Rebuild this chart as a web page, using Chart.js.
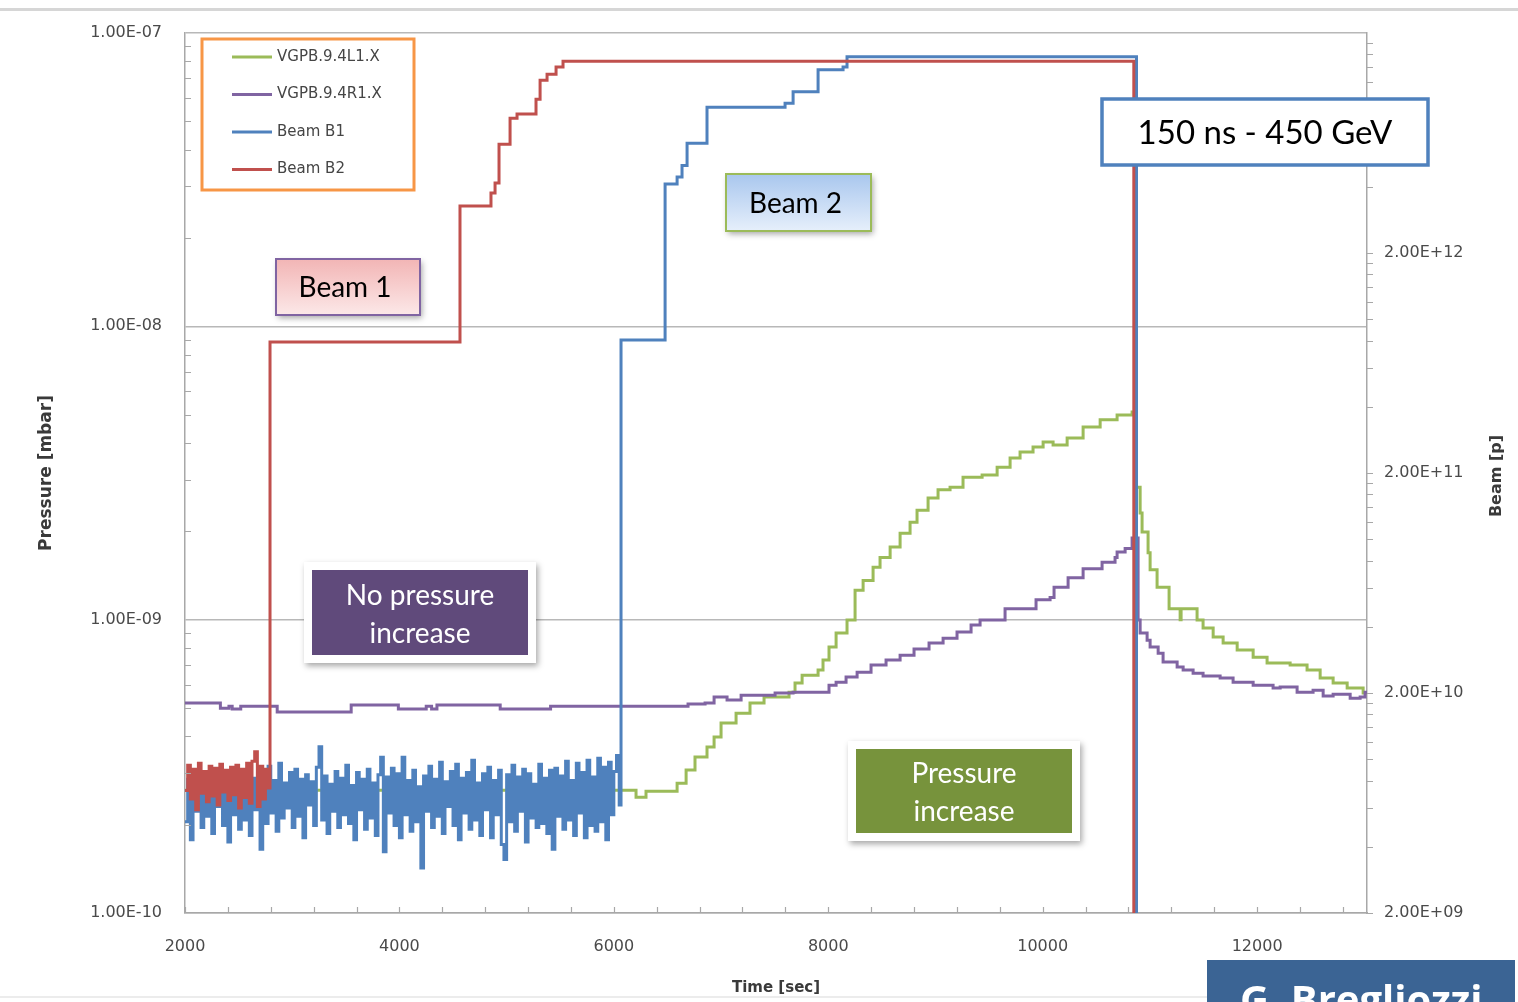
<!DOCTYPE html>
<html>
<head>
<meta charset="utf-8">
<title>VGPB.9.4 pressure and beam intensity</title>
<script src="https://cdn.jsdelivr.net/npm/chart.js@4.4.1/dist/chart.umd.min.js"></script>
<style>
  html, body { margin: 0; padding: 0; background: #fff; }
  #wrap { width: 1518px; height: 1002px; }
</style>
</head>
<body>
<div id="wrap"><canvas id="chartVac" width="1518" height="1002"></canvas></div>
<script>
/* =============================================
   DATA
   ============================================= */
// axis ticks
const timeTicks = [2000, 4000, 6000, 8000, 10000, 12000];
const pressureTicks = [1e-10, 1e-9, 1e-8, 1e-7];
const beamTicks = [2e9, 2e10, 2e11, 2e12, 2e13];

// VGPB.9.4L1.X  [mbar]
const l1Time = [2000, 6067, 6207, 6300, 6590, 6674, 6757, 6869, 6935, 7000,
  7140, 7270, 7401, 7634, 7690, 7756, 7905, 7951, 8007, 8073,
  8175, 8250, 8325, 8418, 8483, 8577, 8670, 8763, 8828, 8931,
  9024, 9136, 9257, 9435, 9575, 9696, 9789, 9910, 10004, 10097,
  10228, 10377, 10536, 10694, 10834, 10871, 10909, 10927, 10983, 11002,
  11067, 11179, 11282, 11291, 11440, 11496, 11590, 11683, 11814, 11963,
  12093, 12308, 12466, 12588, 12709, 12840, 12989, 13025];
const l1Pressure = [2.62e-10, 2.62e-10, 2.48e-10, 2.60e-10, 2.77e-10, 3.07e-10, 3.40e-10, 3.68e-10, 3.98e-10, 4.44e-10,
  4.80e-10, 5.20e-10, 5.45e-10, 5.66e-10, 6.08e-10, 6.47e-10, 6.73e-10, 7.28e-10, 8.07e-10, 9.00e-10,
  9.98e-10, 1.26e-9, 1.36e-9, 1.51e-9, 1.63e-9, 1.77e-9, 1.97e-9, 2.15e-9, 2.36e-9, 2.60e-9,
  2.77e-9, 2.83e-9, 3.06e-9, 3.11e-9, 3.31e-9, 3.56e-9, 3.73e-9, 3.88e-9, 4.03e-9, 3.94e-9,
  4.16e-9, 4.54e-9, 4.80e-9, 4.99e-9, 5.10e-9, 2.83e-9, 2.31e-9, 1.99e-9, 1.69e-9, 1.48e-9,
  1.29e-9, 1.09e-9, 1.00e-9, 1.09e-9, 9.98e-10, 9.36e-10, 8.73e-10, 8.32e-10, 7.88e-10, 7.45e-10,
  7.11e-10, 7.00e-10, 6.73e-10, 6.32e-10, 6.08e-10, 5.85e-10, 5.62e-10, 5.62e-10];

// VGPB.9.4R1.X  [mbar]
const r1Time = [2000, 2330, 2410, 2440, 2520, 2860, 3550, 3990, 4250, 4300,
  4350, 4940, 5410, 6692, 6851, 6935, 7056, 7187, 7504, 7672,
  8007, 8073, 8166, 8269, 8399, 8539, 8670, 8800, 8940, 9071,
  9201, 9332, 9416, 9649, 9938, 10069, 10106, 10237, 10377, 10554,
  10675, 10694, 10769, 10834, 10890, 10909, 10974, 11002, 11077, 11123,
  11254, 11310, 11403, 11496, 11655, 11776, 11963, 12149, 12215, 12373,
  12522, 12616, 12709, 12868, 12961, 13007, 13025];
const r1Pressure = [5.20e-10, 4.99e-10, 5.07e-10, 4.96e-10, 5.07e-10, 4.84e-10, 5.12e-10, 4.96e-10, 5.07e-10, 4.96e-10,
  5.12e-10, 4.96e-10, 5.07e-10, 5.16e-10, 5.20e-10, 5.45e-10, 5.32e-10, 5.53e-10, 5.62e-10, 5.66e-10,
  5.98e-10, 6.12e-10, 6.37e-10, 6.62e-10, 7.00e-10, 7.28e-10, 7.57e-10, 7.94e-10, 8.32e-10, 8.65e-10,
  9.07e-10, 9.59e-10, 9.98e-10, 1.09e-9, 1.17e-9, 1.19e-9, 1.29e-9, 1.39e-9, 1.49e-9, 1.57e-9,
  1.63e-9, 1.70e-9, 1.75e-9, 1.90e-9, 9.98e-10, 9.00e-10, 8.51e-10, 8.07e-10, 7.69e-10, 7.17e-10,
  6.89e-10, 6.73e-10, 6.57e-10, 6.42e-10, 6.32e-10, 6.12e-10, 5.98e-10, 5.85e-10, 5.89e-10, 5.66e-10,
  5.75e-10, 5.49e-10, 5.57e-10, 5.40e-10, 5.45e-10, 5.66e-10, 5.66e-10];

// BCT readings before injection, one sample every 25 s from t = 2000 s  [1e9 p]
const noiseStart = 2000;
const noiseStep = 25;
const b1Noise = [
  5.2, 8.1, 4.3, 7.6, 5.8, 8.4, 4.9, 7.2, 5.5, 8.8, 4.6, 7.9, 6.1, 8.3, 5.0, 7.4, 4.2, 8.0, 5.6, 7.7,
  4.8, 8.6, 5.3, 7.1, 4.5, 8.2, 5.9, 7.5, 3.9, 8.9, 5.1, 9.3, 5.7, 8.0, 4.7, 9.6, 5.4, 7.8, 6.0, 8.7,
  4.9, 9.0, 5.5, 8.1, 4.4, 8.5, 6.2, 7.9, 5.0, 9.2, 11.4, 5.3, 8.4, 4.6, 7.7, 5.8, 8.8, 4.9, 8.2, 5.6,
  9.4, 5.1, 7.6, 4.3, 8.7, 5.9, 8.1, 4.8, 9.0, 5.4, 7.8, 4.5, 8.5, 10.2, 3.8, 8.3, 5.7, 9.1, 5.0, 8.6,
  4.4, 10.2, 5.6, 8.0, 4.7, 8.9, 5.2, 7.5, 3.2, 8.4, 5.8, 9.3, 4.9, 8.1, 5.5, 9.7, 4.6, 7.9, 6.1, 8.8,
  5.0, 9.5, 4.3, 8.2, 5.7, 8.7, 4.8, 9.9, 5.3, 7.8, 4.5, 8.6, 5.9, 9.2, 4.4, 8.0, 5.6, 8.9, 4.1, 3.5,
  8.5, 5.2, 9.4, 4.7, 8.3, 5.8, 9.0, 4.2, 8.6, 5.4, 7.7, 4.9, 9.5, 5.1, 8.2, 4.6, 8.9, 3.9, 9.1, 5.5,
  8.4, 4.8, 9.8, 5.3, 8.0, 4.5, 9.6, 5.7, 8.7, 4.4, 9.9, 5.0, 8.3, 4.7, 10.1, 5.2, 9.2, 4.3, 9.7, 5.6,
  8.8, 10.4, 6.2];
const b2Noise = [
  7.2, 9.4, 6.6, 9.0, 5.9, 9.6, 7.0, 8.8, 6.4, 9.3, 6.8, 9.1, 6.2, 9.5, 7.1, 8.9,
  6.5, 9.2, 6.9, 9.4, 6.0, 9.0, 6.7, 9.6, 6.3, 9.8, 10.8, 6.1, 9.3, 6.6, 9.0, 7.4];

// Beam B1 injections and dump  [p]
const b1Time = [6067, 6478, 6590, 6636, 6683, 6869, 7597, 7672, 7905, 8138, 8175, 10875, 13025];
const b1Intensity = [8.05e11, 4.12e12, 4.43e12, 5.0e12, 6.3e12, 9.2e12, 9.6e12, 1.08e13, 1.36e13, 1.4e13, 1.56e13, 1e9, 1e9];

// Beam B2 injections and dump  [p]
const b2Time = [2793, 4565, 4854, 4892, 4929, 5032, 5097, 5274, 5312, 5377, 5461, 5526, 10850, 13025];
const b2Intensity = [7.87e11, 3.27e12, 3.75e12, 4.16e12, 6.25e12, 8.2e12, 8.57e12, 1.0e13, 1.22e13, 1.3e13, 1.4e13, 1.49e13, 1e9, 1e9];

/* =============================================
   HELPERS
   ============================================= */
const COL = {
  l1: '#9BBB59',
  r1: '#8064A2',
  b1: '#4F81BD',
  b2: '#C0504D',
  axis: '#a8a8a8',
  grid: '#b8b8b8',
  text: '#4a4a4a'
};
const SANS = "'DejaVu Sans', sans-serif";

function toPoints(xs, ys) {
  return xs.map((x, i) => ({ x, y: ys[i] }));
}
// noise samples (in 1e9 p) followed by the stepped intensity record
function beamSeries(noise, times, values) {
  const pts = noise.map((v, i) => ({ x: noiseStart + i * noiseStep, y: v * 1e9 }));
  return pts.concat(toPoints(times, values));
}
// Excel style scientific label, e.g. 1.00E-07
function sci(v) {
  const e = Math.floor(Math.log10(v) + 1e-9);
  const m = v / Math.pow(10, e);
  const a = Math.abs(e);
  return m.toFixed(2) + 'E' + (e < 0 ? '-' : '+') + (a < 10 ? '0' + a : a);
}

/* =============================================
   DECORATION PLUGINS
   ============================================= */
const framePlugin = {
  id: 'frame',
  beforeDraw(chart) {
    const { ctx } = chart;
    ctx.save();
    ctx.fillStyle = '#fff';
    ctx.fillRect(0, 0, chart.width, chart.height);
    // slide rules
    ctx.fillStyle = '#d6d6d6';
    ctx.fillRect(0, 8, chart.width, 3);
    ctx.fillStyle = '#ececec';
    ctx.fillRect(0, 996, 1207, 2);
    ctx.restore();
  },
  afterDraw(chart) {
    const { ctx, chartArea: a, scales } = chart;
    ctx.save();
    ctx.strokeStyle = COL.axis;
    ctx.lineWidth = 1.2;
    ctx.beginPath();
    // minor ticks, pressure axis (inside)
    for (let d = -10; d < -7; d++) {
      for (let k = 2; k <= 9; k++) {
        const y = Math.round(scales.y.getPixelForValue(k * Math.pow(10, d))) + 0.5;
        ctx.moveTo(a.left, y); ctx.lineTo(a.left + 6, y);
      }
    }
    // minor ticks, beam axis (outside)
    for (let d = 9; d < 13; d++) {
      for (let k = 1; k <= 9; k++) {
        const y = Math.round(scales.y2.getPixelForValue(2 * k * Math.pow(10, d))) + 0.5;
        ctx.moveTo(a.right, y); ctx.lineTo(a.right + 6, y);
      }
    }
    // minor ticks, time axis
    for (let t = 2000; t <= 13000; t += 400) {
      const x = Math.round(scales.x.getPixelForValue(t)) + 0.5;
      ctx.moveTo(x, a.bottom); ctx.lineTo(x, a.bottom - 6);
    }
    ctx.stroke();
    ctx.restore();
  }
};

function shadowOn(ctx) {
  ctx.shadowColor = 'rgba(0,0,0,0.35)';
  ctx.shadowBlur = 6;
  ctx.shadowOffsetX = 2;
  ctx.shadowOffsetY = 3;
}

function gradientBox(ctx, x, y, w, h, top, bottom, border, label) {
  ctx.save();
  const g = ctx.createLinearGradient(0, y, 0, y + h);
  g.addColorStop(0, top);
  g.addColorStop(1, bottom);
  shadowOn(ctx);
  ctx.fillStyle = g;
  ctx.fillRect(x, y, w, h);
  ctx.shadowColor = 'transparent';
  ctx.strokeStyle = border;
  ctx.lineWidth = 2;
  ctx.strokeRect(x, y, w, h);
  ctx.fillStyle = '#000';
  ctx.font = "28px Lato, 'Open Sans', sans-serif";
  ctx.textAlign = 'center';
  ctx.textBaseline = 'middle';
  ctx.fillText(label, x + w / 2 - 3, y + h / 2 + 1);
  ctx.restore();
}

function filledNote(ctx, x, y, w, h, fill, lines) {
  ctx.save();
  shadowOn(ctx);
  ctx.fillStyle = '#fff';
  ctx.fillRect(x, y, w, h);
  ctx.shadowColor = 'transparent';
  ctx.fillStyle = fill;
  ctx.fillRect(x + 8, y + 8, w - 16, h - 16);
  ctx.fillStyle = '#fff';
  ctx.font = "28px Lato, 'Open Sans', sans-serif";
  ctx.textAlign = 'center';
  ctx.textBaseline = 'middle';
  const cy = y + h / 2;
  ctx.fillText(lines[0], x + w / 2, cy - 17);
  ctx.fillText(lines[1], x + w / 2, cy + 21);
  ctx.restore();
}

const overlayPlugin = {
  id: 'overlay',
  afterDraw(chart) {
    const { ctx } = chart;

    // legend box, series listed in reverse drawing order
    ctx.save();
    ctx.fillStyle = '#fff';
    ctx.fillRect(202, 39, 212, 151);
    ctx.strokeStyle = '#F79646';
    ctx.lineWidth = 3;
    ctx.strokeRect(202, 39, 212, 151);
    const sets = chart.data.datasets.slice().reverse();
    ctx.font = '15px ' + SANS;
    ctx.textBaseline = 'middle';
    sets.forEach((ds, i) => {
      const y = 57 + i * 37.5;
      ctx.strokeStyle = ds.borderColor;
      ctx.lineWidth = 3;
      ctx.beginPath();
      ctx.moveTo(232, y); ctx.lineTo(272, y);
      ctx.stroke();
      ctx.fillStyle = '#454545';
      ctx.fillText(ds.label, 277, y);
    });
    ctx.restore();

    // call-outs
    gradientBox(ctx, 276, 259, 144, 56, '#F2B5B5', '#FCE8E8', '#8064A2', 'Beam 1');
    gradientBox(ctx, 726, 174, 145, 57, '#A9C7EE', '#E6EFFB', '#9BBB59', 'Beam 2');
    filledNote(ctx, 304, 562, 232, 101, '#604A7B', ['No pressure', 'increase']);
    filledNote(ctx, 848, 741, 232, 100, '#77933C', ['Pressure', 'increase']);

    ctx.save();
    ctx.fillStyle = '#fff';
    ctx.fillRect(1102, 99, 326, 66);
    ctx.strokeStyle = '#4F81BD';
    ctx.lineWidth = 3.5;
    ctx.strokeRect(1102, 99, 326, 66);
    ctx.fillStyle = '#000';
    ctx.font = "33px Lato, 'Open Sans', sans-serif";
    ctx.textAlign = 'center';
    ctx.textBaseline = 'middle';
    ctx.fillText('150 ns - 450 GeV', 1265, 133);
    ctx.restore();

    // secondary axis title
    ctx.save();
    ctx.translate(1497, 476);
    ctx.rotate(-Math.PI / 2);
    ctx.fillStyle = '#3a3a3a';
    ctx.font = 'bold 16px ' + SANS;
    ctx.textAlign = 'center';
    ctx.textBaseline = 'middle';
    ctx.fillText('Beam [p]', 0, 0);
    ctx.restore();

    // author tag
    ctx.save();
    ctx.fillStyle = '#3B6494';
    ctx.fillRect(1207, 960, 308, 42);
    ctx.fillStyle = '#fff';
    ctx.font = "bold 40px 'Open Sans', sans-serif";
    ctx.textBaseline = 'alphabetic';
    ctx.fillText('G. Bregliozzi', 1240, 1014);
    ctx.restore();
  }
};

/* =============================================
   CHART
   ============================================= */
const tickFont = { family: SANS, size: 16 };

new Chart(document.getElementById('chartVac'), {
  type: 'line',
  data: {
    datasets: [
      { label: 'Beam B2', data: beamSeries(b2Noise, b2Time, b2Intensity), borderColor: COL.b2, yAxisID: 'y2' },
      { label: 'Beam B1', data: beamSeries(b1Noise, b1Time, b1Intensity), borderColor: COL.b1, yAxisID: 'y2' },
      { label: 'VGPB.9.4R1.X', data: toPoints(r1Time, r1Pressure), borderColor: COL.r1, yAxisID: 'y' },
      { label: 'VGPB.9.4L1.X', data: toPoints(l1Time, l1Pressure), borderColor: COL.l1, yAxisID: 'y' }
    ]
  },
  options: {
    responsive: false,
    animation: false,
    devicePixelRatio: 1,
    layout: { padding: { top: 33, left: 0, right: 0, bottom: 0 } },
    elements: {
      // horizontal run first, then the jump at the next sample
      line: { borderWidth: 3, stepped: 'before', fill: false, tension: 0 },
      point: { radius: 0, hoverRadius: 0 }
    },
    plugins: {
      legend: { display: false },
      tooltip: { enabled: false }
    },
    scales: {
      x: {
        type: 'linear',
        min: 2000,
        max: 13025,
        afterBuildTicks: s => { s.ticks = timeTicks.map(v => ({ value: v })); },
        afterFit: s => { s.height = 89; },
        grid: { display: false, drawTicks: false },
        border: { color: COL.axis, width: 1.5 },
        ticks: { color: COL.text, font: { family: SANS, size: 16 }, padding: 24, maxRotation: 0, autoSkip: false, callback: v => String(v) },
        title: {
          display: true, text: 'Time [sec]', color: '#3a3a3a',
          font: { family: SANS, size: 15, weight: 'bold' },
          padding: { top: 0, bottom: 5 }
        }
      },
      y: {
        type: 'logarithmic',
        position: 'left',
        min: 1e-10,
        max: 1e-7,
        afterBuildTicks: s => { s.ticks = pressureTicks.map(v => ({ value: v })); },
        afterFit: s => { s.width = 185; },
        grid: { color: COL.grid, lineWidth: 1.5, drawTicks: false },
        border: { color: COL.axis, width: 1.5 },
        ticks: { color: COL.text, font: tickFont, padding: 23, callback: v => sci(v) },
        title: {
          display: true, text: 'Pressure [mbar]', color: '#3a3a3a',
          font: { family: SANS, size: 17, weight: 'bold' },
          padding: { top: 36, bottom: 0 }
        }
      },
      y2: {
        type: 'logarithmic',
        position: 'right',
        min: 2e9,
        max: 2e13,
        afterBuildTicks: s => { s.ticks = beamTicks.map(v => ({ value: v })); },
        afterFit: s => { s.width = 151; },
        grid: { display: false, drawTicks: false },
        border: { color: COL.axis, width: 1.5 },
        ticks: { color: COL.text, font: tickFont, padding: 17, callback: v => (v >= 1.9e13 ? '' : sci(v)) }
      }
    }
  },
  plugins: [framePlugin, overlayPlugin]
});
</script>
</body>
</html>
